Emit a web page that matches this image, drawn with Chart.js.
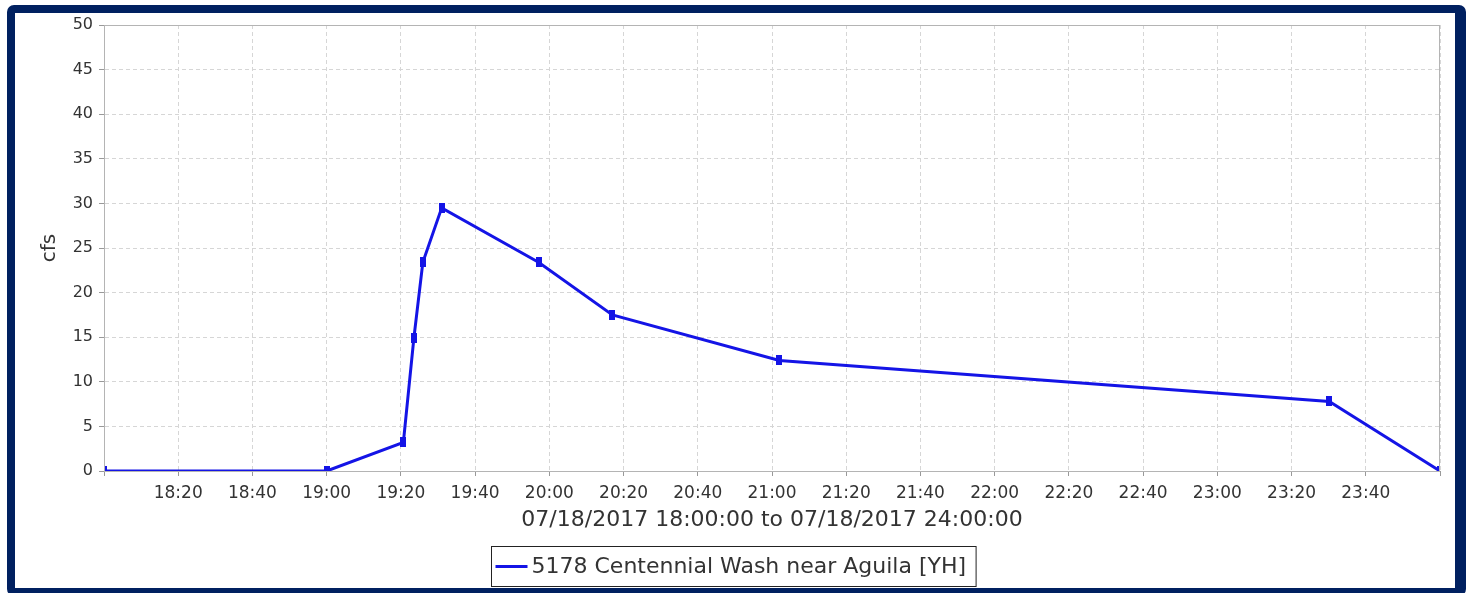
<!DOCTYPE html>
<html>
<head>
<meta charset="utf-8">
<script src="https://cdn.jsdelivr.net/npm/chart.js@4"></script>
<style>
  html, body { margin: 0; padding: 0; background: #fff; }
  #wrap { position: relative; width: 1466px; height: 593px; overflow: hidden; }
  #frame {
    position: absolute; left: 7px; top: 5px; width: 1459px; height: 591px;
    box-sizing: border-box; border: 8px solid #002060; border-right-width: 11px;
    border-radius: 7px; pointer-events: none;
  }
  canvas { position: absolute; left: 0; top: 0; }
</style>
</head>
<body>
<div id="wrap">
  <canvas id="chart" width="1466" height="593"></canvas>
  <div id="frame"></div>
</div>
<script>
// data
const seriesName = '5178 Centennial Wash near Aguila [YH]';
const times = ['18:00:00', '19:00:00', '19:20:40', '19:23:30', '19:25:55', '19:31:00',
               '19:57:05', '20:17:00', '21:02:00', '23:30:10', '24:00:00'];
const flows = [0, 0, 3.2, 14.9, 23.4, 29.5, 23.4, 17.5, 12.4, 7.8, 0];
const xTickLabels = ['18:20', '18:40', '19:00', '19:20', '19:40', '20:00', '20:20', '20:40',
                     '21:00', '21:20', '21:40', '22:00', '22:20', '22:40', '23:00', '23:20', '23:40'];
const yTicks = [0, 5, 10, 15, 20, 25, 30, 35, 40, 45, 50];
const xTitle = '07/18/2017 18:00:00 to 07/18/2017 24:00:00';
const yTitle = 'cfs';

const START_HOUR = 18;
function toMinutes(t) {
  const p = t.split(':').map(Number);
  return (p[0] - START_HOUR) * 60 + p[1] + (p[2] || 0) / 60;
}
function toLabel(m) {
  const h = START_HOUR + Math.floor(m / 60);
  const mm = Math.round(m % 60);
  return h + ':' + String(mm).padStart(2, '0');
}

const lineColor = '#1414e6';
const font = 'DejaVu Sans';

// marker: small upright rectangle
const marker = document.createElement('canvas');
marker.width = 6;
marker.height = 10;
const mctx = marker.getContext('2d');
mctx.fillStyle = lineColor;
mctx.fillRect(0, 0, 6, 10);

const plotFrame = {
  id: 'plotFrame',
  afterDraw(chart) {
    const { ctx, chartArea: a } = chart;
    ctx.save();
    ctx.strokeStyle = '#b4b4b4';
    ctx.lineWidth = 1;
    ctx.strokeRect(a.left + 0.5, a.top + 0.5, a.right - a.left - 1, a.bottom - a.top);
    ctx.restore();
  }
};

const boxLegend = {
  id: 'boxLegend',
  afterDraw(chart) {
    const ctx = chart.ctx;
    const label = chart.data.datasets[0].label;
    ctx.save();
    ctx.font = '22px "' + font + '"';
    const tw = ctx.measureText(label).width;
    const lineW = 32, gap = 4, padL = 4, padR = 10;
    const w = padL + lineW + gap + tw + padR;
    const h = 40;
    const x = Math.round(chart.width / 2 - w / 2) + 0.5;
    const y = 546.5;
    ctx.fillStyle = '#fff';
    ctx.fillRect(x, y, w, h);
    ctx.strokeStyle = '#222';
    ctx.lineWidth = 1;
    ctx.strokeRect(x, y, w, h);
    ctx.strokeStyle = lineColor;
    ctx.lineWidth = 3;
    ctx.beginPath();
    ctx.moveTo(x + padL, y + h / 2);
    ctx.lineTo(x + padL + lineW, y + h / 2);
    ctx.stroke();
    ctx.fillStyle = '#333';
    ctx.textBaseline = 'middle';
    ctx.fillText(label, x + padL + lineW + gap, y + h / 2 + 1);
    ctx.restore();
  }
};

new Chart(document.getElementById('chart'), {
  type: 'line',
  data: {
    datasets: [{
      label: seriesName,
      data: times.map((t, i) => ({ x: toMinutes(t), y: flows[i] })),
      borderColor: lineColor,
      backgroundColor: lineColor,
      borderWidth: 3,
      pointStyle: marker,
      pointRadius: 5,
      tension: 0,
      clip: 0
    }]
  },
  options: {
    responsive: false,
    animation: false,
    events: [],
    layout: { padding: { top: 25, left: 0, right: 26, bottom: 52 } },
    plugins: { legend: { display: false }, tooltip: { enabled: false } },
    scales: {
      x: {
        type: 'linear',
        min: 0,
        max: 360,
        afterFit(s) { s.height = 70; },
        afterBuildTicks(s) {
          s.ticks = [];
          for (let m = 0; m <= 360; m += 20) s.ticks.push({ value: m });
        },
        ticks: {
          autoSkip: false,
          maxRotation: 0,
          padding: 7,
          color: '#333',
          font: { family: font, size: 17 },
          callback(v) {
            const s = toLabel(v);
            return xTickLabels.includes(s) ? s : '';
          }
        },
        grid: { color: '#d6d6d6', tickColor: '#999', tickLength: 5 },
        border: { color: '#999', dash: [4, 3] },
        title: {
          display: true, text: xTitle, color: '#333',
          font: { family: font, size: 22 }, padding: { top: 0, bottom: 8 }
        }
      },
      y: {
        min: 0,
        max: 50,
        afterFit(s) { s.width = 104; },
        afterBuildTicks(s) { s.ticks = yTicks.map(v => ({ value: v })); },
        ticks: {
          padding: 6,
          color: '#333',
          font: { family: font, size: 16 }
        },
        grid: { color: '#d6d6d6', tickColor: '#999', tickLength: 5 },
        border: { color: '#999', dash: [4, 3] },
        title: {
          display: true, text: yTitle, color: '#333',
          font: { family: font, size: 20 }, padding: { top: 38, bottom: 0 }
        }
      }
    }
  },
  plugins: [plotFrame, boxLegend]
});
</script>
</body>
</html>
